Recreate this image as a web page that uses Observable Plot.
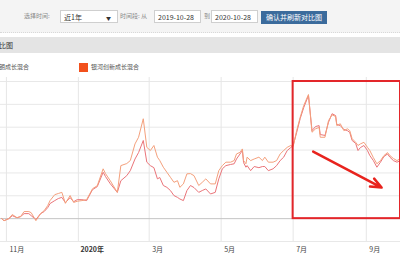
<!DOCTYPE html>
<html><head><meta charset="utf-8">
<script src="https://cdn.jsdelivr.net/npm/d3@7"></script>
<script src="https://cdn.jsdelivr.net/npm/@observablehq/plot@0.6"></script>
<style>
html,body{margin:0;padding:0;width:400px;height:260px;overflow:hidden;background:#fff;font-family:"Noto Sans CJK SC","Noto Sans",sans-serif;}
.abs{position:absolute;white-space:nowrap;}
#bar{position:absolute;left:0;top:0;width:400px;height:32px;background:#f4f4f4;border-bottom:1px dotted #d8d8d8;}
#hdr{position:absolute;left:0;top:37px;width:400px;height:16px;background:#e4e4e4;}
.lbl{font-size:6px;color:#888;}
.box{position:absolute;height:13px;border:1px solid #cfcfcf;background:#fff;font-size:7px;color:#333;line-height:13px;box-sizing:border-box;padding-left:3px;}
#btn{position:absolute;left:261px;top:11px;width:66px;height:13px;background:#3b6b9c;color:#fff;font-size:7px;line-height:13px;text-align:center;}
#chart{position:absolute;left:0;top:77px;}
</style></head>
<body>
<div id="bar"></div>
<div class="abs lbl" style="left:24px;top:11px;line-height:10px;">选择时间:</div>
<div class="box" style="left:60px;top:10px;width:58px;">近1年<span style="position:absolute;right:6px;font-size:5px;">▼</span></div>
<div class="abs lbl" style="left:120px;top:11px;line-height:10px;">时间段: 从</div>
<div class="box" style="left:154px;top:10px;width:47px;">2019-10-28</div>
<div class="abs lbl" style="left:204px;top:11px;line-height:10px;">到</div>
<div class="box" style="left:211px;top:10px;width:47px;">2020-10-28</div>
<div id="btn">确认并刷新对比图</div>
<div id="hdr"></div>
<div class="abs" style="left:-1px;top:40px;font-size:7px;line-height:10px;color:#333;">比图</div>
<div class="abs" style="left:-1px;top:62px;font-size:6px;line-height:10px;color:#555;">朗成长混合</div>
<div class="abs" style="left:79px;top:63px;width:9px;height:9px;background:#f2501c;"></div>
<div class="abs" style="left:91px;top:62px;font-size:6px;line-height:10px;color:#555;">银河创新成长混合</div>
<div id="chart"></div>
<script>
const dates = ["2019-10-28","2019-10-30","2019-11-03","2019-11-06","2019-11-10","2019-11-13","2019-11-16","2019-11-20","2019-11-22","2019-11-26","2019-11-30","2019-12-03","2019-12-06","2019-12-08","2019-12-12","2019-12-15","2019-12-18","2019-12-21","2019-12-25","2019-12-28","2019-12-31","2020-01-04","2020-01-08","2020-01-13","2020-01-17","2020-01-22","2020-01-24","2020-01-28","2020-02-03","2020-02-06","2020-02-11","2020-02-14","2020-02-18","2020-02-21","2020-02-25","2020-02-28","2020-03-02","2020-03-05","2020-03-08","2020-03-10","2020-03-13","2020-03-16","2020-03-19","2020-03-22","2020-03-25","2020-03-27","2020-03-30","2020-04-02","2020-04-05","2020-04-08","2020-04-12","2020-04-15","2020-04-18","2020-04-22","2020-04-26","2020-04-29","2020-05-02","2020-05-05","2020-05-09","2020-05-12","2020-05-14","2020-05-17","2020-05-19","2020-05-20","2020-05-22","2020-05-23","2020-05-26","2020-05-29","2020-06-02","2020-06-05","2020-06-07","2020-06-10","2020-06-14","2020-06-17","2020-06-20","2020-06-23","2020-06-26","2020-06-29","2020-07-01","2020-07-04","2020-07-07","2020-07-10","2020-07-14","2020-07-17","2020-07-20","2020-07-23","2020-07-24","2020-07-28","2020-07-31","2020-08-03","2020-08-06","2020-08-07","2020-08-10","2020-08-13","2020-08-16","2020-08-18","2020-08-20","2020-08-23","2020-08-25","2020-08-27","2020-08-30","2020-09-02","2020-09-04","2020-09-07","2020-09-10","2020-09-13","2020-09-16","2020-09-19","2020-09-21","2020-09-24","2020-09-27","2020-09-30"];
const fundA = [0,-0.9,0,1.8,0.4,0.9,3.1,3.1,2.6,-0.9,2.2,3.5,5.7,7.9,10.5,11.0,11.5,6.7,10.1,7.1,7.6,7.9,8.3,13.1,14.4,21.8,19.7,16.6,11.5,23.2,24.1,25.4,32.7,35.6,43.7,31.2,29.8,32.0,26.9,25.4,22.5,20.3,18.1,15.9,16.6,13.7,15.2,19.6,19.7,18.8,14.5,15.9,17.4,15.2,15.2,21.0,23.2,24.7,24.7,25.4,28.3,29.0,30.5,25.4,24.0,26.9,25.4,26.1,26.9,25.4,26.9,24.7,24.7,25.4,28.3,29.8,31.2,32.0,31.5,38.5,44.4,49.5,54.3,37.8,39.3,39.9,35.6,35.6,42.9,45.4,44.7,40.7,41.5,38.5,39.3,38.5,35.0,33.4,32.0,32.7,33.4,31.2,29.8,26.7,24.0,25.4,27.6,28.9,27.6,26.3,25.4,26.3];
const fundB = [0,-0.9,0,1.3,0.4,0.9,2.2,2.2,1.3,-0.4,2.2,3.1,4.8,6.6,7.9,8.8,9.3,7.0,9.2,7.4,8.3,8.3,7.9,12.7,14.0,20.3,18.4,15.3,11.5,16.6,18.8,21.0,26.1,28.9,34.2,24.7,23.2,22.3,17.4,18.0,14.5,13.7,12.3,10.1,9.3,8.6,7.9,12.3,14.5,13.6,11.5,12.3,13.0,10.8,11.5,17.4,21.8,23.2,23.7,24.0,26.1,28.3,29.8,24.5,22.5,23.2,21.0,22.8,22.3,22.8,22.8,21.0,21.8,23.2,25.4,26.9,29.8,31.1,32.0,37.7,43.8,48.6,53.9,38.5,40.3,40.7,36.8,36.4,42.2,45.9,45.1,41.2,40.7,39.0,38.5,37.7,34.2,32.9,29.8,31.1,32.0,29.8,27.6,25.4,22.5,24.7,27.2,28.3,26.9,25.4,24.7,25.4];
const tickDates = ["2019-11-01","2020-01-01","2020-03-01","2020-05-01","2020-07-01","2020-09-01"];
const tickLabels = ["11月","2020年","3月","5月","7月","9月"];
const gridValues = [-10,0,10,20,30,40,50,60];
const boxDates = ["2020-07-01","2020-09-30"];
const boxValues = [0,60];
const arrowDates = ["2020-07-18","2020-09-14"];
const arrowValues = [29.3,13.6];

const P = d => new Date(d + "T00:00:00Z");
const rows = dates.map((d,i)=>({date:P(d), a:fundA[i], b:fundB[i]}));
const ticks = tickDates.map((d,i)=>({date:P(d), label:tickLabels[i], bold: tickLabels[i].includes("年")}));

const chart = Plot.plot({
  width: 400, height: 183,
  marginLeft: 0, marginRight: 0, marginTop: 0, marginBottom: 19,
  style: {fontFamily: '"Noto Sans CJK SC", sans-serif', background: "transparent"},
  x: {type: "utc", domain: [P("2019-10-27"), P("2020-09-30")], range: [0, 400], axis: null},
  y: {domain: [-10, 60], range: [164, 4], axis: null},
  marks: [
    Plot.ruleY(gridValues.filter(v=>v!==0), {stroke: "#e8e8e8", strokeWidth: 1}),
    Plot.ruleX(ticks, {x: "date", stroke: "#e6e6e6", strokeWidth: 1}),
    Plot.ruleY([0], {stroke: "#c4c4c4", strokeWidth: 1}),
    Plot.line(rows, {x: "date", y: "b", stroke: "#ea7479", strokeWidth: 1}),
    Plot.line(rows, {x: "date", y: "a", stroke: "#f4a07c", strokeWidth: 1}),
    Plot.rect([0], {x1: () => P(boxDates[0]), x2: () => P(boxDates[1]), y1: () => boxValues[0], y2: () => boxValues[1], fill: "none", stroke: "#e3262a", strokeWidth: 2}),
    Plot.arrow([0], {x1: () => P(arrowDates[0]), y1: () => arrowValues[0], x2: () => P(arrowDates[1]), y2: () => arrowValues[1], stroke: "#e8231d", strokeWidth: 2.5, headLength: 7, headAngle: 45}),
    Plot.text(ticks.filter(t=>!t.bold), {x: "date", text: "label", y: () => -13.5, textAnchor: "start", dx: 3, fontSize: 7, fill: "#444"}),
    Plot.text(ticks.filter(t=>t.bold), {x: "date", text: "label", y: () => -13.5, textAnchor: "start", dx: 2, fontSize: 7, fontWeight: "bold", fill: "#333"})
  ]
});
chart.style.overflow = "visible";
document.getElementById("chart").appendChild(chart);
</script>
</body></html>
